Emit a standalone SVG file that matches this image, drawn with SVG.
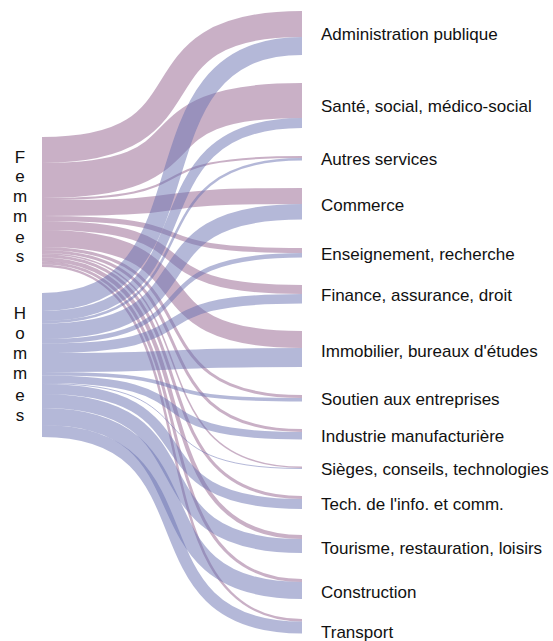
<svg xmlns="http://www.w3.org/2000/svg" width="553" height="641" viewBox="0 0 553 641">
<style>
.f{fill:none;stroke:#93618d;stroke-opacity:0.5}
.h{fill:none;stroke:#6971b1;stroke-opacity:0.5}
text{font-family:"Liberation Sans",Arial,sans-serif;font-size:17px;fill:#111}
.v{text-anchor:middle}
</style>
<rect width="553" height="641" fill="#fff"/>
<g id="links">
<path class="f" stroke-width="26" d="M42,150 C224,150 120,24 302,24"/>
<path class="f" stroke-width="35" d="M42,180.5 C224,180.5 120,100.5 302,100.5"/>
<path class="f" stroke-width="2" d="M42,199 C224,199 120,157 302,157"/>
<path class="f" stroke-width="16" d="M42,208 C224,208 120,196 302,196"/>
<path class="f" stroke-width="5" d="M42,218.5 C224,218.5 120,250.5 302,250.5"/>
<path class="f" stroke-width="9" d="M42,225.5 C224,225.5 120,289.5 302,289.5"/>
<path class="f" stroke-width="17" d="M42,238.5 C224,238.5 120,339.5 302,339.5"/>
<path class="f" stroke-width="3" d="M42,248.5 C224,248.5 120,396.5 302,396.5"/>
<path class="f" stroke-width="3" d="M42,251.5 C224,251.5 120,430.5 302,430.5"/>
<path class="f" stroke-width="1.5" d="M42,253.75 C224,253.75 120,467.25 302,467.25"/>
<path class="f" stroke-width="3" d="M42,256 C224,256 120,497.5 302,497.5"/>
<path class="f" stroke-width="4" d="M42,259.5 C224,259.5 120,537 302,537"/>
<path class="f" stroke-width="3" d="M42,263 C224,263 120,580.5 302,580.5"/>
<path class="f" stroke-width="2.5" d="M42,265.75 C224,265.75 120,620.25 302,620.25"/>
<path class="h" stroke-width="18" d="M42,302 C224,302 120,46 302,46"/>
<path class="h" stroke-width="10" d="M42,316 C224,316 120,123 302,123"/>
<path class="h" stroke-width="2.5" d="M42,322.25 C224,322.25 120,159.25 302,159.25"/>
<path class="h" stroke-width="15.5" d="M42,331.25 C224,331.25 120,211.75 302,211.75"/>
<path class="h" stroke-width="4.5" d="M42,341.25 C224,341.25 120,255.25 302,255.25"/>
<path class="h" stroke-width="9.5" d="M42,348.25 C224,348.25 120,298.75 302,298.75"/>
<path class="h" stroke-width="19" d="M42,362.5 C224,362.5 120,357.5 302,357.5"/>
<path class="h" stroke-width="3.5" d="M42,373.75 C224,373.75 120,399.75 302,399.75"/>
<path class="h" stroke-width="7.5" d="M42,379.25 C224,379.25 120,435.75 302,435.75"/>
<path class="h" stroke-width="1" d="M42,383.5 C224,383.5 120,468.5 302,468.5"/>
<path class="h" stroke-width="10" d="M42,389 C224,389 120,504 302,504"/>
<path class="h" stroke-width="14" d="M42,401 C224,401 120,546 302,546"/>
<path class="h" stroke-width="17" d="M42,416.5 C224,416.5 120,590.5 302,590.5"/>
<path class="h" stroke-width="12" d="M42,431 C224,431 120,627.5 302,627.5"/>
</g>
<g id="femmes"><text class="v" x="20"><tspan x="20" y="163">F</tspan><tspan x="20" y="182">e</tspan><tspan x="20" y="202">m</tspan><tspan x="20" y="222">m</tspan><tspan x="20" y="243">e</tspan><tspan x="20" y="262">s</tspan></text></g>
<g id="hommes"><text class="v" x="20"><tspan x="20" y="319">H</tspan><tspan x="20" y="339">o</tspan><tspan x="20" y="359">m</tspan><tspan x="20" y="379">m</tspan><tspan x="20" y="401">e</tspan><tspan x="20" y="421">s</tspan></text></g>
<g id="n-admin"><text x="321" y="40">Administration publique</text></g>
<g id="n-sante"><text x="321" y="112">Santé, social, médico-social</text></g>
<g id="n-autres"><text x="321" y="165">Autres services</text></g>
<g id="n-commerce"><text x="321" y="211">Commerce</text></g>
<g id="n-enseignement"><text x="321" y="260">Enseignement, recherche</text></g>
<g id="n-finance"><text x="321" y="301">Finance, assurance, droit</text></g>
<g id="n-immobilier"><text x="321" y="357">Immobilier, bureaux d'études</text></g>
<g id="n-soutien"><text x="321" y="405">Soutien aux entreprises</text></g>
<g id="n-industrie"><text x="321" y="442">Industrie manufacturière</text></g>
<g id="n-sieges"><text x="321" y="475">Sièges, conseils, technologies</text></g>
<g id="n-tech"><text x="321" y="510">Tech. de l'info. et comm.</text></g>
<g id="n-tourisme"><text x="321" y="554">Tourisme, restauration, loisirs</text></g>
<g id="n-construction"><text x="321" y="598">Construction</text></g>
<g id="n-transport"><text x="321" y="638">Transport</text></g>
</svg>
